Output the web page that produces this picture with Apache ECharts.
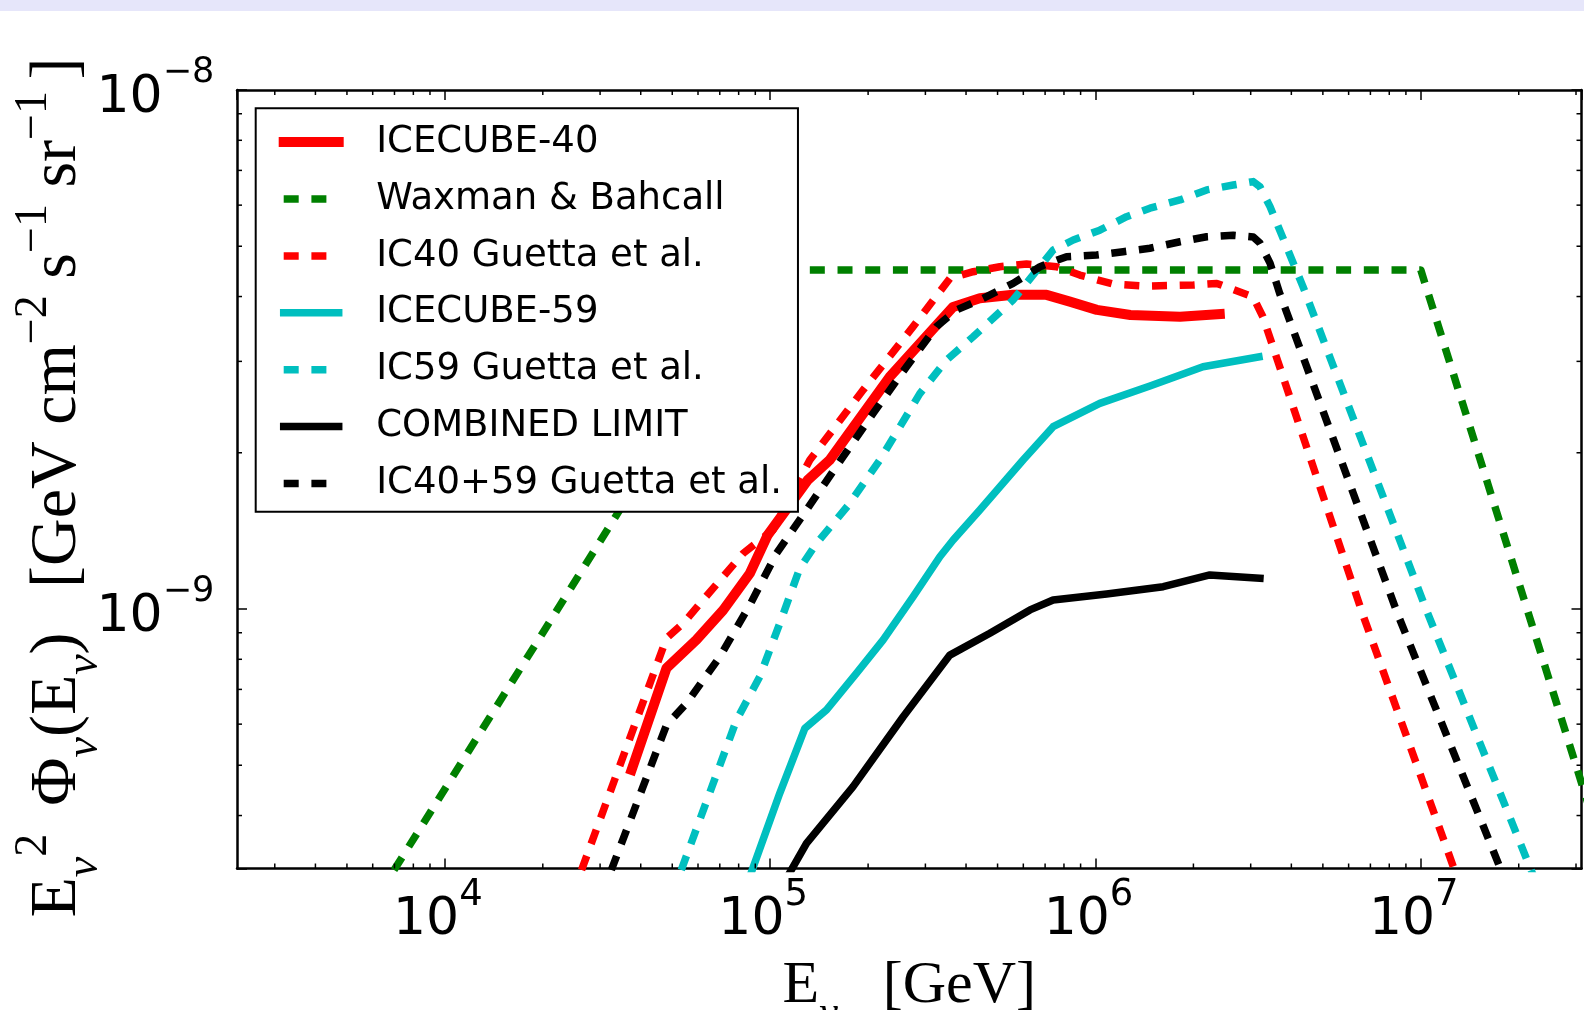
<!DOCTYPE html>
<html>
<head>
<meta charset="utf-8">
<script src="https://cdn.jsdelivr.net/npm/echarts@6/dist/echarts.min.js"></script>
<style>
  html, body { margin: 0; padding: 0; background: #fff; }
  #chart { width: 1584px; height: 1010px; }
</style>
</head>
<body>
<div id="chart"></div>
<script>
// neutrino energy [GeV] and E^2 Phi [GeV cm^-2 s^-1 sr^-1]
var ic40E    = [3.75e4, 4.8e4, 5.93e4, 7.17e4, 8.66e4, 9.83e4, 1.305e5, 1.524e5, 2.33e5, 3.65e5, 4.41e5, 5.58e5, 7.07e5, 8.34e5, 1.01e6, 1.28e6, 1.82e6, 2.41e6];
var ic40Flux = [4.9e-10, 7.69e-10, 8.72e-10, 9.95e-10, 1.171e-9, 1.389e-9, 1.772e-9, 1.937e-9, 2.80e-9, 3.82e-9, 3.97e-9, 4.03e-9, 4.03e-9, 3.91e-9, 3.77e-9, 3.685e-9, 3.657e-9, 3.70e-9];

var wbE    = [2e3, 1e5, 1e7, 4e7];
var wbFlux = [9e-11, 4.5e-9, 4.5e-9, 2.81e-10];

var ic40gE    = [2.46e4, 4.8e4, 5.4e4, 6.22e4, 8.26e4, 1.02e5, 1.324e5, 1.93e5, 2.75e5, 3.57e5, 4.21e5, 5.08e5, 6.14e5, 7.59e5, 8.95e5, 1.133e6, 1.436e6, 2.0e6, 2.36e6, 3.05e6, 3.27e6, 6.64e6, 1.37e7];
var ic40gFlux = [2.8e-10, 8.78e-10, 9.38e-10, 1.041e-9, 1.28e-9, 1.42e-9, 1.937e-9, 2.642e-9, 3.5e-9, 4.337e-9, 4.466e-9, 4.566e-9, 4.62e-9, 4.566e-9, 4.40e-9, 4.227e-9, 4.19e-9, 4.21e-9, 4.24e-9, 3.996e-9, 3.657e-9, 9.74e-10, 2.75e-10];

var ic59E    = [8.41e4, 1.07e5, 1.278e5, 1.49e5, 1.843e5, 2.225e5, 2.751e5, 3.323e5, 3.651e5, 4.41e5, 5.99e5, 7.41e5, 1.031e6, 1.47e6, 2.14e6, 3.18e6];
var ic59Flux = [2.9e-10, 4.415e-10, 5.89e-10, 6.39e-10, 7.52e-10, 8.72e-10, 1.056e-9, 1.261e-9, 1.358e-9, 1.551e-9, 1.937e-9, 2.245e-9, 2.49e-9, 2.69e-9, 2.93e-9, 3.06e-9];

var ic59gE    = [4.98e4, 7.88e4, 9.29e4, 1.07e5, 1.233e5, 1.388e5, 1.74e5, 2.173e5, 2.884e5, 3.484e5, 4.206e5, 5.58e5, 7.41e5, 8.54e5, 1.031e6, 1.246e6, 1.47e6, 1.818e6, 2.197e6, 2.651e6, 3.055e6, 3.203e6, 3.44e6, 4.343e6, 1.04e7, 2.35e7];
var ic59gFlux = [2.8e-10, 6.11e-10, 7.41e-10, 9.38e-10, 1.198e-9, 1.338e-9, 1.586e-9, 1.937e-9, 2.60e-9, 3.018e-9, 3.347e-9, 3.94e-9, 4.917e-9, 5.14e-9, 5.37e-9, 5.70e-9, 5.92e-9, 6.14e-9, 6.42e-9, 6.56e-9, 6.66e-9, 6.51e-9, 5.96e-9, 4.18e-9, 9.96e-10, 2.8e-10];

var combE    = [1.08e5, 1.293e5, 1.798e5, 2.563e5, 3.567e5, 4.735e5, 6.29e5, 7.41e5, 1.082e6, 1.615e6, 2.247e6, 3.203e6];
var combFlux = [2.9e-10, 3.536e-10, 4.546e-10, 6.2e-10, 8.15e-10, 8.98e-10, 9.96e-10, 1.041e-9, 1.069e-9, 1.104e-9, 1.163e-9, 1.146e-9];

var combgE    = [3.03e4, 4.8e4, 5.53e4, 7.0e4, 8.66e4, 1.046e5, 1.676e5, 2.072e5, 2.625e5, 3.246e5, 3.741e5, 4.41e5, 5.58e5, 6.75e5, 8.15e5, 1.008e6, 1.217e6, 1.47e6, 1.818e6, 2.197e6, 2.651e6, 3.055e6, 3.203e6, 3.44e6, 3.683e6, 8.51e6, 1.9e7];
var combgFlux = [2.8e-10, 5.976e-10, 6.58e-10, 8.09e-10, 1.018e-9, 1.28e-9, 1.965e-9, 2.382e-9, 2.93e-9, 3.50e-9, 3.77e-9, 3.94e-9, 4.24e-9, 4.566e-9, 4.774e-9, 4.81e-9, 4.88e-9, 4.955e-9, 5.10e-9, 5.214e-9, 5.25e-9, 5.21e-9, 5.07e-9, 4.64e-9, 4.057e-9, 9.74e-10, 2.8e-10];

var legendNames = ['ICECUBE-40', 'Waxman & Bahcall', 'IC40 Guetta et al.', 'ICECUBE-59',
                   'IC59 Guetta et al.', 'COMBINED LIMIT', 'IC40+59 Guetta et al.'];

// axis limits
var xMin = Math.pow(10, 3.361), xMax = Math.pow(10, 7.494);
var yMin = Math.pow(10, -9.5), yMax = 1e-8;

// minor ticks at 2..9 x 10^n
var xMinor = [], yMinor = [];
for (var p = 3; p <= 7; p++) {
    for (var k = 2; k <= 9; k++) {
        var v = k * Math.pow(10, p);
        if (v > xMin && v < xMax) xMinor.push([v, yMax]);
    }
}
for (var q = -10; q <= -9; q++) {
    for (var m = 2; m <= 9; m++) {
        var w = m * Math.pow(10, q);
        if (w > yMin && w < yMax) yMinor.push([xMin, w]);
    }
}

function pairs(xs, ys) {
    return xs.map(function (x, i) { return [x, ys[i]]; });
}

function powLabel(val) {
    var e = Math.log10(val);
    var n = Math.round(e);
    if (Math.abs(e - n) > 1e-6) return '';
    return '{b|10}{s|' + String(n).replace('-', '\u2212') + '}';
}

var chart = echarts.init(document.getElementById('chart'));

var sans = 'DejaVu Sans';
var serif = 'Liberation Serif';

// tick labels: "10" pushed down a little, exponent raised (padding shifts tokens by half of it)
function tickRich(supSize, rightPad) {
    return {
        b: { fontFamily: sans, fontSize: 52, lineHeight: 52, color: '#000', padding: [16, 0, 0, 0] },
        s: { fontFamily: sans, fontSize: supSize, lineHeight: supSize, color: '#000', padding: [0, rightPad, 35, 0] }
    };
}

function titleRich(size, supPad) {
    var small = Math.round(size * 0.7);
    return {
        r:   { fontFamily: serif, fontSize: size, lineHeight: size, color: '#000' },
        sub: { fontFamily: serif, fontSize: small, lineHeight: small, color: '#000', fontStyle: 'italic', padding: [54, 0, 0, 0] },
        sup: { fontFamily: serif, fontSize: small, lineHeight: small, color: '#000', padding: [0, 0, supPad, 0] }
    };
}

function solid(name, xs, ys, color, width) {
    return {
        name: name, type: 'line', data: pairs(xs, ys), symbol: 'none', clip: true,
        lineStyle: { color: color, width: width, type: 'solid', cap: 'square', join: 'round' },
        itemStyle: { color: color }
    };
}
function dashed(name, xs, ys, color) {
    return {
        name: name, type: 'line', data: pairs(xs, ys), symbol: 'none', clip: true,
        lineStyle: { color: color, width: 7.5, type: [15, 12.7], cap: 'butt', join: 'round' },
        itemStyle: { color: color }
    };
}

function legendItem(name, color, width, dash) {
    return {
        name: name,
        itemStyle: { opacity: 0 },
        lineStyle: { color: color, width: width, type: dash ? [15, 12.7] : 'solid', cap: dash ? 'butt' : 'square', opacity: 1 }
    };
}

function tickMarks(horizontal) {
    return function (params, api) {
        var cs = params.coordSys;
        var pt = api.coord([api.value(0), api.value(1)]);
        var st = { stroke: '#000', lineWidth: 1.5 };
        if (horizontal) {
            var x = pt[0], yb = cs.y + cs.height, yt = cs.y;
            return { type: 'group', children: [
                { type: 'line', shape: { x1: x, y1: yb, x2: x, y2: yb - 5 }, style: st },
                { type: 'line', shape: { x1: x, y1: yt, x2: x, y2: yt + 5 }, style: st }
            ]};
        }
        var y = pt[1], xl = cs.x, xr = cs.x + cs.width;
        return { type: 'group', children: [
            { type: 'line', shape: { x1: xl, y1: y, x2: xl + 5, y2: y }, style: st },
            { type: 'line', shape: { x1: xr, y1: y, x2: xr - 5, y2: y }, style: st }
        ]};
    };
}

var frameLine = { show: true, lineStyle: { color: '#000', width: 2.5 } };
var majorTick = { show: true, inside: true, length: 10, lineStyle: { color: '#000', width: 1.5 } };

var xTitle = '{r|E}{sub|\u03bd}{r|   [GeV]}';
var yTitle = '{r|E}{sub|\u03bd}{sup|2}{r| }{sup| }{r|\u03a6}{sub|\u03bd}{r|(E}{sub|\u03bd}{r|)  }{sup| }' +
             '{r|[GeV cm}{sup|\u22122}{r| s}{sup|\u22121}{r| sr}{sup|\u22121}{sup| }{r|] }';

chart.setOption({
    animation: false,
    backgroundColor: '#fff',
    graphic: [
        { type: 'rect', left: 0, top: 0, shape: { width: 1584, height: 11 }, style: { fill: '#e6e6fa' } }
    ],
    grid: { left: 237, top: 90, width: 1344.5, height: 778.5, containLabel: false, outerBoundsMode: 'none' },
    legend: {
        data: [
            legendItem(legendNames[0], '#ff0000', 10, false),
            legendItem(legendNames[1], '#008000', 7.5, true),
            legendItem(legendNames[2], '#ff0000', 7.5, true),
            legendItem(legendNames[3], '#00bfbf', 7.5, false),
            legendItem(legendNames[4], '#00bfbf', 7.5, true),
            legendItem(legendNames[5], '#000000', 7.5, false),
            legendItem(legendNames[6], '#000000', 7.5, true)
        ],
        orient: 'vertical',
        left: 255.7, top: 108.3,
        padding: [15.3, 16, 9.8, 23],
        itemWidth: 55, itemHeight: 14, itemGap: 19.9,
        backgroundColor: '#fff', borderColor: '#000', borderWidth: 2, borderRadius: 0,
        selectedMode: false,
        formatter: function (n) { return '{t|' + n + '}'; },
        textStyle: { rich: { t: { fontFamily: sans, fontSize: 37, lineHeight: 40, color: '#000', padding: [0, 0, 0, 32.5] } } }
    },
    xAxis: [
        {
            type: 'log', min: xMin, max: xMax, position: 'bottom',
            axisLine: frameLine, axisTick: majorTick, splitLine: { show: false },
            axisLabel: { margin: 18, formatter: powLabel, rich: tickRich(37, 14), showMinLabel: false, showMaxLabel: false },
            name: xTitle, nameLocation: 'middle', nameGap: 88, nameMoveOverlap: false,
            nameTextStyle: { rich: titleRich(60, 56) }
        },
        {
            type: 'log', min: xMin, max: xMax, position: 'top',
            axisLine: frameLine, axisTick: majorTick, splitLine: { show: false }, axisLabel: { show: false }
        }
    ],
    yAxis: [
        {
            type: 'log', min: yMin, max: yMax, position: 'left',
            axisLine: frameLine, axisTick: majorTick, splitLine: { show: false },
            axisLabel: { margin: 22.7, formatter: powLabel, rich: tickRich(35, 0) },
            name: yTitle, nameLocation: 'middle', nameGap: 146, nameRotate: 90, nameMoveOverlap: false,
            nameTextStyle: { rich: titleRich(66, 48) }
        },
        {
            type: 'log', min: yMin, max: yMax, position: 'right',
            axisLine: frameLine, axisTick: majorTick, splitLine: { show: false }, axisLabel: { show: false }
        }
    ],
    series: [
        solid(legendNames[0], ic40E, ic40Flux, '#ff0000', 10),
        dashed(legendNames[1], wbE, wbFlux, '#008000'),
        dashed(legendNames[2], ic40gE, ic40gFlux, '#ff0000'),
        solid(legendNames[3], ic59E, ic59Flux, '#00bfbf', 7.5),
        dashed(legendNames[4], ic59gE, ic59gFlux, '#00bfbf'),
        solid(legendNames[5], combE, combFlux, '#000000', 7.5),
        dashed(legendNames[6], combgE, combgFlux, '#000000'),
        { type: 'custom', silent: true, data: xMinor, renderItem: tickMarks(true), encode: { x: 0, y: 1 }, z: 5 },
        { type: 'custom', silent: true, data: yMinor, renderItem: tickMarks(false), encode: { x: 0, y: 1 }, z: 5 }
    ]
});
</script>
</body>
</html>
